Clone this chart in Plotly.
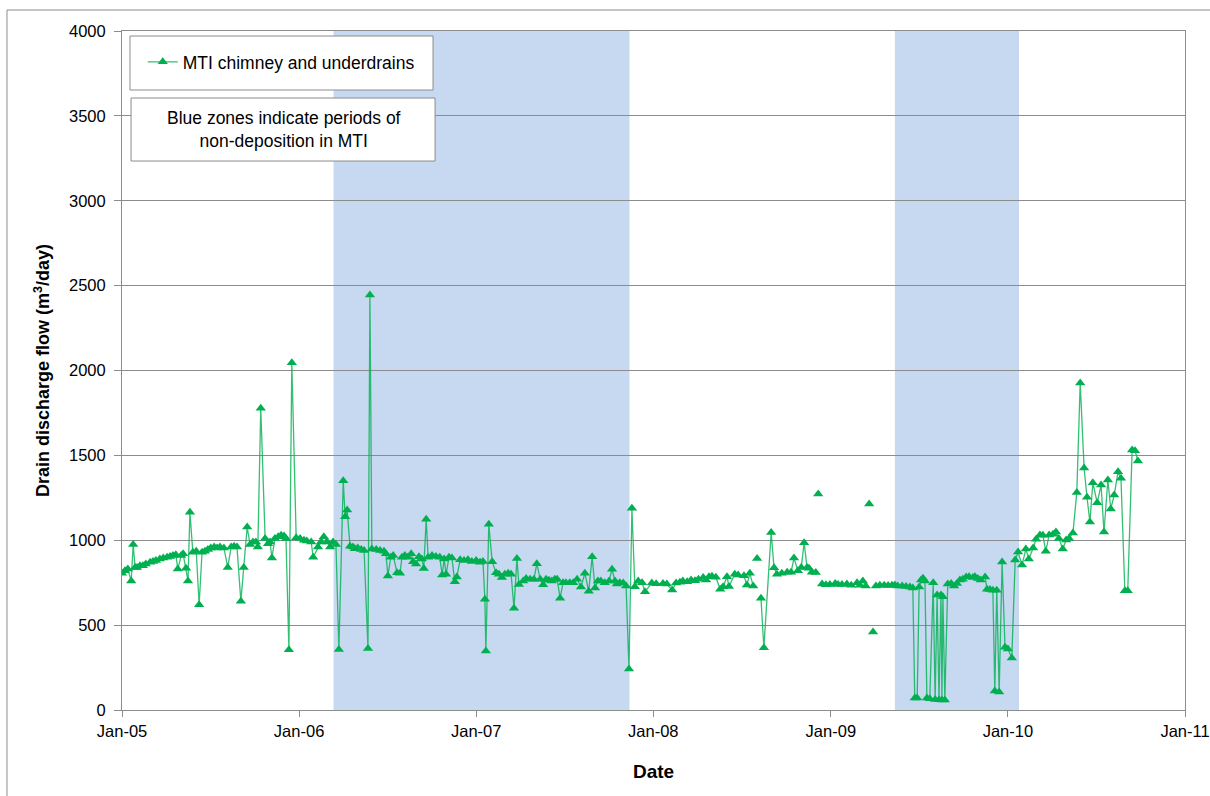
import plotly.graph_objects as go

# Drain discharge flow, MTI chimney and underdrains (m3/day)
# None entries mark missing readings (line breaks around isolated points)
dates_2005 = [
    "2005-01-01", "2005-01-07", "2005-01-13", "2005-01-20", "2005-01-24", "2005-01-28",
    "2005-02-01", "2005-02-07", "2005-02-13", "2005-02-19", "2005-02-28", "2005-03-06",
    "2005-03-12", "2005-03-20", "2005-03-27", "2005-04-04", "2005-04-10", "2005-04-16",
    "2005-04-22", "2005-04-26", "2005-05-03", "2005-05-07", "2005-05-13", "2005-05-17",
    "2005-05-21", "2005-05-27", "2005-06-03", "2005-06-09", "2005-06-15", "2005-06-21",
    "2005-06-27", "2005-07-03", "2005-07-10", "2005-07-16", "2005-07-22", "2005-07-30",
    "2005-08-07", "2005-08-14", "2005-08-20", "2005-08-26", "2005-09-03", "2005-09-09",
    "2005-09-16", "2005-09-22", "2005-09-28", "2005-10-04", "2005-10-08", "2005-10-14",
    "2005-10-23", "2005-10-29", "2005-11-02", "2005-11-06", "2005-11-12", "2005-11-19",
    "2005-11-25", "2005-12-01", "2005-12-05", "2005-12-11", "2005-12-17", "2005-12-26",
]
flow_2005 = [
    805, 820, 830, 760, 975, 840,
    840, 850, 850, 860, 870, 875,
    880, 890, 895, 900, 905, 910,
    915, 830, 910, 920, 835, 760,
    1165, 930, 935, 620, 930, 935,
    945, 955, 960, 955, 960, 955,
    840, 960, 965, 960, 640, 840,
    1078, 975, 990, 990, 960, 1778,
    1010, 980, 990, 895, 1010, 1020,
    1030, 1025, 1010, 355, 2045, 1015,
]

dates_2006 = [
    "2006-01-03", "2006-01-11", "2006-01-17", "2006-01-26", "2006-01-30", "2006-02-09",
    "2006-02-15", "2006-02-21", "2006-02-28", "2006-03-06", "2006-03-12", "2006-03-18",
    "2006-03-24", "2006-04-02", "2006-04-06", "2006-04-10", "2006-04-16", "2006-04-22",
    "2006-04-26", "2006-05-02", "2006-05-09", "2006-05-15", "2006-05-23", "2006-05-27",
    "2006-05-31", "2006-06-09", "2006-06-17", "2006-06-25", "2006-06-29", "2006-07-03",
    "2006-07-09", "2006-07-14", "2006-07-22", "2006-07-28", "2006-08-01", "2006-08-07",
    "2006-08-13", "2006-08-20", "2006-08-24", "2006-08-30", "2006-09-05", "2006-09-11",
    "2006-09-15", "2006-09-20", "2006-09-24", "2006-10-02", "2006-10-10", "2006-10-18",
    "2006-10-23", "2006-10-27", "2006-10-31", "2006-11-06", "2006-11-12", "2006-11-18",
    "2006-11-22", "2006-11-29", "2006-12-07", "2006-12-15", "2006-12-23",
]
flow_2006 = [
    1010, 1000, 995, 990, 900, 960,
    990, 1020, 990, 960, 990, 975,
    357, 1350, 1138, 1178, 965, 960,
    950, 955, 945, 940, 362, 2445,
    948, 945, 940, 935, 920, 790,
    900, 910, 808, 805, 900, 910,
    900, 920, 873, 860, 903, 890,
    834, 1123, 900, 910, 905, 900,
    795, 890, 800, 900, 895, 756,
    783, 885, 880, 885, 875,
]

dates_2007 = [
    "2007-01-01", "2007-01-09", "2007-01-15", "2007-01-19", "2007-01-21", "2007-01-27",
    "2007-02-03", "2007-02-11", "2007-02-17", "2007-02-23", "2007-03-01", "2007-03-08",
    "2007-03-14", "2007-03-20", "2007-03-26", "2007-03-30", "2007-04-08", "2007-04-14",
    "2007-04-22", "2007-04-30", "2007-05-06", "2007-05-13", "2007-05-19", "2007-05-25",
    "2007-05-31", "2007-06-06", "2007-06-12", "2007-06-17", "2007-06-23", "2007-06-29",
    "2007-07-05", "2007-07-13", "2007-07-20", "2007-07-28", "2007-08-05", "2007-08-13",
    "2007-08-21", "2007-08-28", "2007-09-03", "2007-09-09", "2007-09-15", "2007-09-23",
    "2007-10-02", "2007-10-08", "2007-10-14", "2007-10-18", "2007-10-24", "2007-10-31",
    "2007-11-06", "2007-11-12", "2007-11-18", "2007-11-24", "2007-12-01", "2007-12-09",
    "2007-12-15", "2007-12-29",
]
flow_2007 = [
    880, 870, 875, 653, 348, 1094,
    874, 808, 800, 780, 800, 805,
    800, 600, 893, 740, 760, 775,
    770, 770, 862, 770, 738, 770,
    765, 760, 770, 770, 658, 750,
    750, 750, 750, 770, 725, 805,
    700, 903, 718, 760, 760, 750,
    760, 829, 760, 742, 750, 748,
    730, 242, 1189, 726, 760, 750,
    697, 748,
]

dates_2008 = [
    "2008-01-07", "2008-01-21", "2008-01-29", "2008-02-09", "2008-02-17", "2008-02-25",
    "2008-03-02", "2008-03-11", "2008-03-19", "2008-03-27", "2008-04-03", "2008-04-13",
    "2008-04-19", "2008-04-25", "2008-05-01", "2008-05-09", "2008-05-18", "2008-05-24",
    "2008-06-01", "2008-06-05", "2008-06-17", "2008-06-24", "2008-07-06", "2008-07-12",
    "2008-07-18", "2008-07-25", "2008-08-02", "2008-08-02", "2008-08-02", "2008-08-10",
    "2008-08-16", "2008-08-31", "2008-09-06", "2008-09-12", "2008-09-22", "2008-10-03",
    "2008-10-11", "2008-10-17", "2008-10-25", "2008-11-01", "2008-11-07", "2008-11-13",
    "2008-11-17", "2008-11-23", "2008-12-01", "2008-12-06", "2008-12-06", "2008-12-06",
    "2008-12-14", "2008-12-22", "2008-12-30",
]
flow_2008 = [
    744, 745, 742, 707, 748, 752,
    760, 755, 766, 762, 770, 780,
    766, 785, 788, 782, 711, 726,
    785, 728, 800, 795, 791, 736,
    805, 731, None, 893, None, 658,
    366, 1045, 838, 800, 805, 811,
    811, 895, 821, 840, 985, 840,
    835, 811, 810, None, 1272, None,
    742, 738, 740,
]

dates_2009 = [
    "2009-01-10", "2009-01-16", "2009-01-24", "2009-02-03", "2009-02-12", "2009-02-24",
    "2009-03-02", "2009-03-08", "2009-03-14", "2009-03-21", "2009-03-21", "2009-03-21",
    "2009-03-29", "2009-03-29", "2009-04-04", "2009-04-12", "2009-04-21", "2009-04-29",
    "2009-05-07", "2009-05-13", "2009-05-19", "2009-05-28", "2009-06-05", "2009-06-13",
    "2009-06-19", "2009-06-23", "2009-06-28", "2009-07-02", "2009-07-06", "2009-07-10",
    "2009-07-14", "2009-07-18", "2009-07-24", "2009-07-31", "2009-08-04", "2009-08-08",
    "2009-08-12", "2009-08-16", "2009-08-18", "2009-08-20", "2009-08-24", "2009-08-30",
    "2009-09-06", "2009-09-12", "2009-09-18", "2009-09-24", "2009-09-30", "2009-10-07",
    "2009-10-13", "2009-10-21", "2009-10-25", "2009-10-31", "2009-11-06", "2009-11-15",
    "2009-11-19", "2009-11-25", "2009-12-01", "2009-12-05", "2009-12-09", "2009-12-14",
    "2009-12-20", "2009-12-26",
]
flow_2009 = [
    745, 740, 740, 742, 735, 750,
    735, 760, 731, None, 1214, None,
    460, None, 731, 735, 735, 733,
    735, 736, 730, 730, 728, 725,
    719, 70, 70, 725, 766, 776,
    760, 70, 67, 750, 62, 677,
    60, 677, 59, 667, 59, 742,
    745, 731, 745, 766, 770, 783,
    785, 780, 785, 775, 766, 783,
    711, 710, 705, 112, 705, 106,
    872, 370,
]

dates_2010 = [
    "2010-01-01", "2010-01-09", "2010-01-16", "2010-01-22", "2010-01-30", "2010-02-07",
    "2010-02-13", "2010-02-22", "2010-02-28", "2010-03-08", "2010-03-14", "2010-03-20",
    "2010-03-27", "2010-04-04", "2010-04-10", "2010-04-16", "2010-04-24", "2010-05-01",
    "2010-05-07", "2010-05-15", "2010-05-23", "2010-05-30", "2010-06-07", "2010-06-13",
    "2010-06-19", "2010-06-25", "2010-07-04", "2010-07-12", "2010-07-18", "2010-07-26",
    "2010-08-01", "2010-08-08", "2010-08-16", "2010-08-22", "2010-08-30", "2010-09-05",
    "2010-09-14", "2010-09-20", "2010-09-26",
]
flow_2010 = [
    360, 306, 884, 931, 854, 948,
    890, 954, 1006, 1031, 1030, 935,
    1031, 1036, 1048, 1011, 948, 1001,
    1011, 1043, 1282, 1927, 1425, 1253,
    1107, 1339, 1221, 1325, 1048, 1355,
    1184, 1266, 1403, 1365, 703, 703,
    1531, 1527, 1467,
]

# Periods of non-deposition in MTI
zone_starts = ["2006-03-13", "2009-05-13"]
zone_ends = ["2007-11-13", "2010-01-24"]

y_ticks = [0, 500, 1000, 1500, 2000, 2500, 3000, 3500, 4000]
x_start, x_end = "2005-01-01", "2011-01-01"

dates = dates_2005 + dates_2006 + dates_2007 + dates_2008 + dates_2009 + dates_2010
flow = flow_2005 + flow_2006 + flow_2007 + flow_2008 + flow_2009 + flow_2010

GREEN = "#00B050"
GRID = "#8C8C8C"
FONT = "Liberation Sans, Arial, sans-serif"

fig = go.Figure()
fig.add_trace(go.Scatter(
    x=dates, y=flow, mode="lines+markers",
    name="MTI chimney and underdrains",
    connectgaps=False,
    line=dict(color="rgba(0,176,80,0.8)", width=1.3),
    marker=dict(symbol="triangle-up", size=9, color=GREEN, line=dict(width=0)),
))

shapes = []
for s, e in zip(zone_starts, zone_ends):
    shapes.append(dict(type="rect", xref="x", yref="paper", x0=s, x1=e, y0=0, y1=1,
                       fillcolor="#C6D9F0", line=dict(width=0), layer="between"))

# legend frame and note frame
shapes.append(dict(type="rect", xref="paper", yref="paper", x0=0.0075, x1=0.2926,
                   y0=0.9131, y1=0.9926, fillcolor="white",
                   line=dict(color="#8C8C8C", width=1), layer="above"))
shapes.append(dict(type="rect", xref="paper", yref="paper", x0=0.0085, x1=0.2945,
                   y0=0.8085, y1=0.9013, fillcolor="white",
                   line=dict(color="#8C8C8C", width=1), layer="above"))
# outer chart frame
shapes.append(dict(type="rect", xref="paper", yref="paper", x0=-0.1082, x1=1.03,
                   y0=-0.14, y1=1.0309, fillcolor="rgba(0,0,0,0)",
                   line=dict(color="#8C8C8C", width=1), layer="above"))

fig.update_layout(
    width=1210, height=796,
    margin=dict(l=122, r=25, t=31, b=86, autoexpand=False),
    paper_bgcolor="white", plot_bgcolor="white",
    font=dict(family=FONT, size=16.5, color="black"),
    shapes=shapes,
    showlegend=True,
    legend=dict(x=0.0195, y=0.981, xanchor="left", yanchor="top",
                bgcolor="rgba(0,0,0,0)", borderwidth=0,
                font=dict(size=17.5, family=FONT)),
    annotations=[dict(xref="paper", yref="paper", x=0.152, y=0.855,
                      text="Blue zones indicate periods of<br>non-deposition in MTI",
                      showarrow=False, font=dict(size=17.5, family=FONT),
                      align="center", xanchor="center", yanchor="middle")],
)

fig.update_xaxes(
    type="date", range=[x_start, x_end], tick0=x_start, dtick="M12",
    tickformat="%b-%y", ticks="outside", ticklen=6, tickcolor=GRID,
    showline=True, linecolor=GRID, linewidth=1, mirror=True,
    showgrid=False, zeroline=False, automargin=False,
    title=dict(text="<b>Date</b>", font=dict(size=19), standoff=25),
)
fig.update_yaxes(
    range=[0, 4000], tickvals=y_ticks, ticks="outside", ticklen=7, tickcolor=GRID,
    showline=True, linecolor=GRID, linewidth=1, mirror=True,
    showgrid=True, gridcolor=GRID, gridwidth=1, zeroline=False, automargin=False,
    ticklabelstandoff=5,
    title=dict(text="<b>Drain discharge flow (m<sup>3</sup>/day)</b>", font=dict(size=18),
               standoff=14),
)

fig.write_html("out.html")
